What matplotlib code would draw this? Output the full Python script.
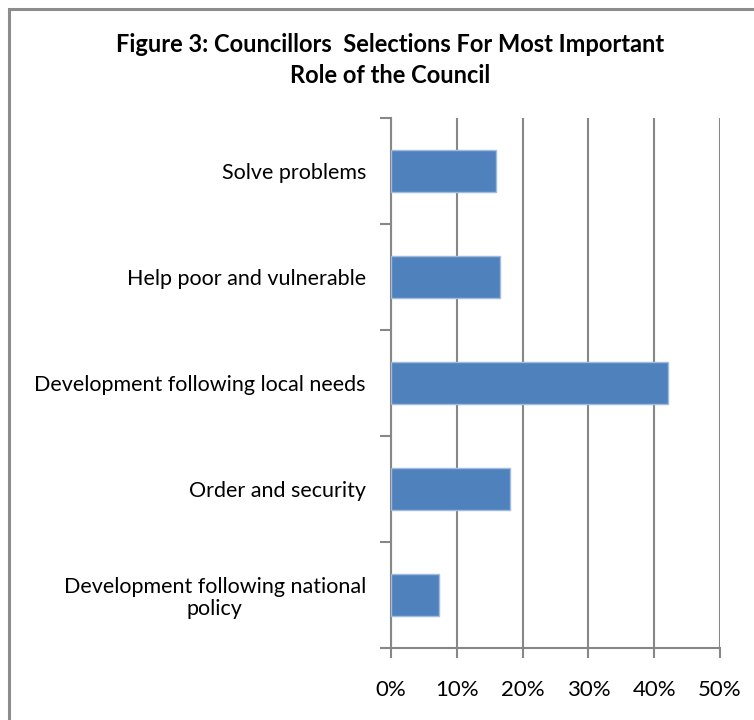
import matplotlib
matplotlib.use("Agg")
import matplotlib.pyplot as plt
from matplotlib.patches import Rectangle
from matplotlib.ticker import FixedLocator, PercentFormatter

plt.rcParams['font.family'] = ['Lato', 'DejaVu Sans']

title = "Figure 3: Councillors  Selections For Most Important\nRole of the Council"
categories = [
    "Development following national\npolicy",
    "Order and security",
    "Development following local needs",
    "Help poor and vulnerable",
    "Solve problems",
]
shares = [7.3, 18.1, 42.1, 16.5, 15.9]
x_ticks = [0, 10, 20, 30, 40, 50]

W, H = 754, 720
fig = plt.figure(figsize=(W / 100, H / 100), dpi=100)
fig.patch.set_facecolor("white")

# chart-area frame (runs off the right and bottom edges)
fig.add_artist(Rectangle((9 / W, -0.1), 1.2, 1.1 - 9 / H, transform=fig.transFigure,
                         fill=False, edgecolor="#8c8c8c", linewidth=2.2))

ax = fig.add_axes([391 / W, 1 - 648 / H, (720 - 391) / W, (648 - 118) / H])
grey = "#878787"

ax.barh(range(len(categories)), shares, height=0.4, color="#4F81BD",
        edgecolor="#9FBBDF", linewidth=1.0, zorder=3)

ax.set_xlim(0, 50)
ax.set_ylim(-0.5, len(categories) - 0.5)

ax.xaxis.set_major_locator(FixedLocator(x_ticks))
ax.xaxis.set_major_formatter(PercentFormatter(decimals=0))
ax.grid(axis="x", color=grey, linewidth=1.5, zorder=0)

ax.set_yticks(range(len(categories)))
ax.set_yticklabels(categories, ha="right", multialignment="center", linespacing=1.15)
ax.yaxis.set_minor_locator(FixedLocator([i - 0.5 for i in range(len(categories) + 1)]))
ax.tick_params(axis="y", which="major", length=0, pad=18, labelsize=15.5, colors="black")
ax.tick_params(axis="y", which="minor", length=8, width=1.5, color=grey)
ax.tick_params(axis="x", which="major", length=7, width=1.5, color=grey,
               pad=16, labelsize=16, labelcolor="black")

for side in ("top", "right"):
    ax.spines[side].set_visible(False)
for side in ("left", "bottom"):
    ax.spines[side].set_color(grey)
    ax.spines[side].set_linewidth(1.5)

fig.text(390 / W, 1 - 60 / H, title, ha="center", va="center",
         fontsize=17, fontweight="bold", linespacing=1.4)

fig.savefig("out.png", dpi=100, facecolor="white")
